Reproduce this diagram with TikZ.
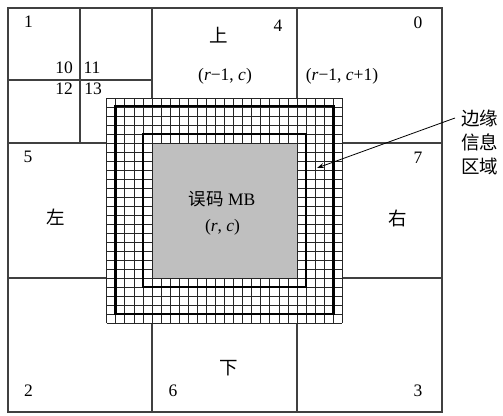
\documentclass[tikz,border=0pt]{standalone}
\usepackage{fontspec}
\usetikzlibrary{arrows.meta}
\setmainfont{Liberation Serif}
\newfontfamily\cjk{Noto Sans CJK SC}
\begin{document}
\begin{tikzpicture}[x=1pt,y=-1pt,
  mainline/.style={draw=black!75,line width=1.1pt},
  cellline/.style={draw=black!85,line width=0.7pt},
  thickline/.style={draw=black,line width=2.8pt},
  lbl/.style={font=\fontsize{17.5}{20}\selectfont,inner sep=0pt},
  cjklbl/.style={font=\fontsize{18.5}{21}\selectfont\cjk,inner sep=0pt}]
\useasboundingbox (0,0) rectangle (503,415);
\fill[white] (0,0) rectangle (503,415);
% main grid
\draw[mainline] (8,8) rectangle (442,412);
\foreach \x in {152,297} \draw[mainline] (\x,8) -- (\x,412);
\foreach \y in {143,278} \draw[mainline] (8,\y) -- (442,\y);
\draw[mainline] (80,8) -- (80,143);
\draw[mainline] (8,80) -- (152,80);
% edge pixel grid
\fill[white] (106.7,98) rectangle (342.3,323);
\foreach \k in {-5,...,21} \draw[cellline] ({152+\k*9.0625},98) -- ({152+\k*9.0625},323);
\foreach \k in {-5,...,20} \draw[cellline] (106.7,{143+\k*9}) -- (342.3,{143+\k*9});
\fill[black!25] (152,143) rectangle (297,278);
\draw[cellline] (152,143) rectangle (297,278);
\draw[thickline] (115.75,106) rectangle (333.25,314);
\draw[thickline] (143,134) rectangle (306,287);
% labels
\node[lbl] (n1) at (28.5,22) {1};
\node[lbl] (n10) at (64,68) {10};
\node[lbl] (n11) at (92,68) {11};
\node[lbl] (n12) at (64,89) {12};
\node[lbl] (n13) at (93,89) {13};
\node[cjklbl] (up) at (219,35) {上};
\node[lbl] (n4) at (278,26) {4};
\node[lbl] (n0) at (418,23) {0};
\node[lbl] (rc1) at (225,76) {(\textit{r}−1, \textit{c})};
\node[lbl] (rc2) at (342,76) {(\textit{r}−1, \textit{c}+1)};
\node[lbl] (n5) at (28,157) {5};
\node[cjklbl] (left) at (56,217) {左};
\node[lbl] (n7) at (418,158) {7};
\node[cjklbl] (right) at (398,218) {右};
\node[lbl] (mb) at (222,199) {{\fontsize{17.5}{20}\selectfont\cjk 误码} MB};
\node[lbl] (rc) at (222.5,227) {(\textit{r}, \textit{c})};
\node[cjklbl] (down) at (229,368) {下};
\node[lbl] (n6) at (173,391) {6};
\node[lbl] (n2) at (28.5,391) {2};
\node[lbl] (n3) at (418,391) {3};
\node[cjklbl,anchor=west,inner xsep=6pt] (e1) at (455,118) {边缘};
\node[cjklbl,anchor=west] (e2) at (461,142) {信息};
\node[cjklbl,anchor=west] (e3) at (461,166) {区域};
\coordinate (tip) at (317,168);
\draw[line width=0.8pt,-{Stealth[length=7pt,width=5pt]}] (e1.west) -- (tip);
\end{tikzpicture}
\end{document}
